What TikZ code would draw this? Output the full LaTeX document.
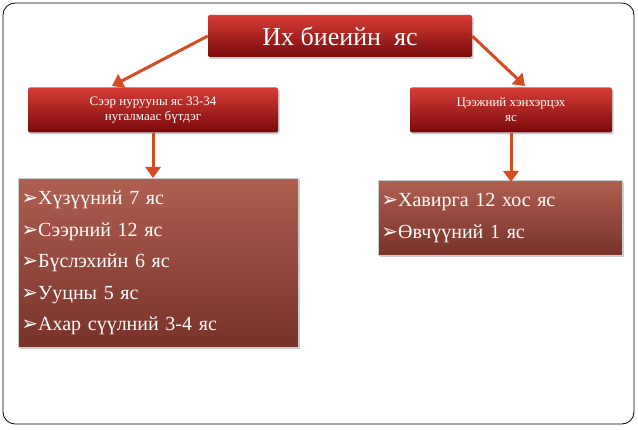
\documentclass[tikz,border=0pt]{standalone}
\usepackage{fontspec}
\setmainfont{Liberation Serif}
\newfontfamily\dv{DejaVu Sans}
\usetikzlibrary{arrows.meta,shadows}
\definecolor{redtop}{RGB}{215,60,55}
\definecolor{redbot}{RGB}{120,10,10}
\definecolor{brtop}{RGB}{175,95,80}
\definecolor{brbot}{RGB}{120,50,40}
\definecolor{arr}{RGB}{215,75,35}
\tikzset{
 redbox/.style={draw=none,rounded corners=2pt,top color=redtop,bottom color=redbot,text=white,align=center,drop shadow={shadow xshift=1.5pt,shadow yshift=-2pt,opacity=.4},inner sep=0pt},
 brbox/.style={draw=white!80!black,line width=0.8pt,top color=brtop,bottom color=brbot,text=white,align=left,drop shadow={shadow xshift=2pt,shadow yshift=-2pt,opacity=.4},inner sep=0pt,anchor=north west},
 conn/.style={draw=arr,line width=3pt,-{Triangle[length=11pt,width=15pt]}}
}
\newcommand{\bl}{{\dv\char"27A2}}
\begin{document}
\begin{tikzpicture}[x=1pt,y=-1pt]
\useasboundingbox (0,0) rectangle (638,430);
\draw[line width=0.8pt,rounded corners=12pt] (3,3) rectangle (634,424);
\node[redbox,minimum width=264pt,minimum height=42pt,font=\fontsize{26}{28}\selectfont] (top) at (340,36) {Их биеийн\ \ яс};
\node[redbox,minimum width=250pt,minimum height=45pt,font=\fontsize{13}{15}\selectfont] (l) at (153,110) {Сээр нурууны яс 33-34\\нугалмаас бүтдэг};
\node[redbox,minimum width=202pt,minimum height=45pt,font=\fontsize{13}{15}\selectfont] (r) at (511,110) {Цээжний хэнхэрцэх\\яс};
\node[brbox,minimum width=280pt,minimum height=169pt,font=\fontsize{20}{31.5}\selectfont,text width=278pt] (lb) at (18,178) {\hspace*{2pt}\bl Хүзүүний 7 яс\\\hspace*{2pt}\bl Сээрний 12 яс\\\hspace*{2pt}\bl Бүслэхийн 6 яс\\\hspace*{2pt}\bl Ууцны 5 яс\\\hspace*{2pt}\bl Ахар сүүлний 3-4 яс};
\node[brbox,minimum width=244pt,minimum height=75pt,font=\fontsize{20}{31.5}\selectfont,text width=242pt] (rb) at (378,180) {\hspace*{2pt}\bl Хавирга 12 хос яс\\\hspace*{2pt}\bl Өвчүүний 1 яс};
\draw[conn] (top.west) -- (112,86);
\draw[conn] (top.east) -- (525,86);
\draw[conn] (l.south) -- (lb.north -| l.south);
\draw[conn] (r.south) -- ([yshift=-2pt]r.south |- rb.north);
\end{tikzpicture}
\end{document}
